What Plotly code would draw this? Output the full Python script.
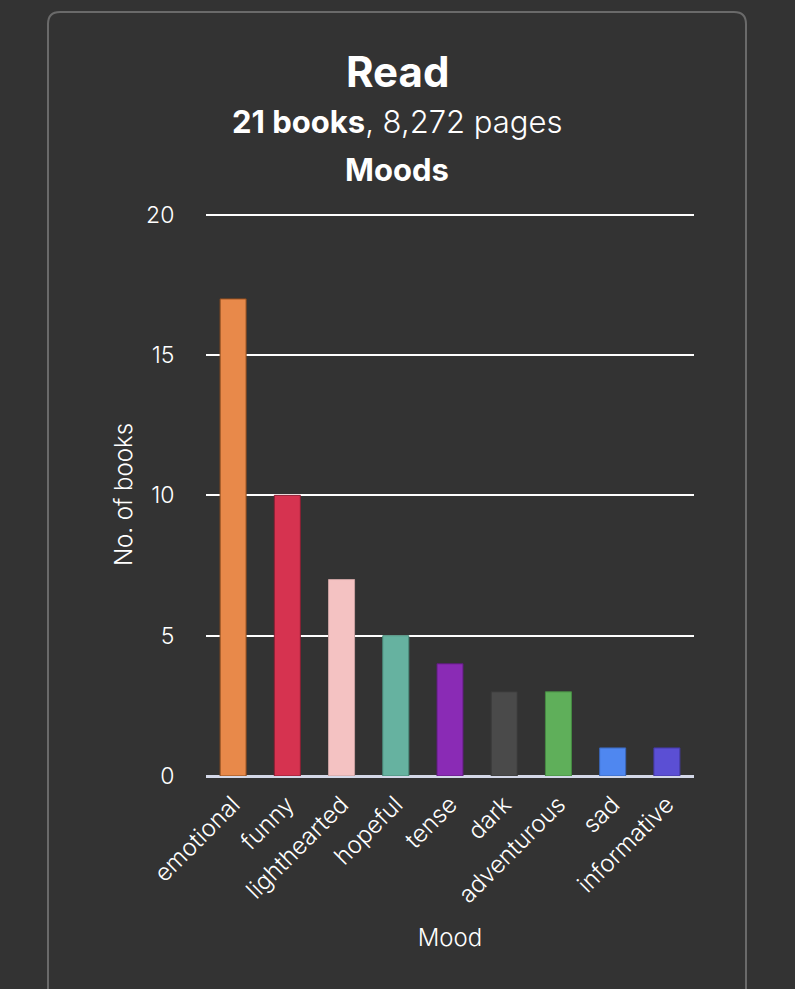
import plotly.graph_objects as go

moods = ["emotional", "funny", "lighthearted", "hopeful", "tense", "dark",
         "adventurous", "sad", "informative"]
books = [17, 10, 7, 5, 4, 3, 3, 1, 1]
colors = ["#E8894A", "#D63350", "#F4C2C2", "#66B2A0", "#8A2BB5", "#4A4A4A",
          "#5FAF5A", "#4F87F0", "#5B4FD4"]
outlines = ["#8a4a1e", "#8a1f33", "#c9a0a0", "#4a8a7a", "#5e1d7d", "#3a3a3a",
            "#468a42", "#3a66b8", "#4238a0"]
y_ticks = [0, 5, 10, 15, 20]

FONT = "Inter, Lato, sans-serif"
OFF = 8  # page body margin
W, H = 795 - OFF, 989 - OFF
PL, PR, PT, PB = 206 - OFF, 694 - OFF, 213 - OFF, 776 - OFF
L, R, T, B = PL, W - PR, PT, H - PB
PW, PH = PR - PL, PB - PT

def px(x):
    return (x - OFF - L) / PW

def py(y):
    return (PB - (y - OFF)) / PH

fig = go.Figure(go.Bar(
    x=moods, y=books,
    marker=dict(color=colors, line=dict(color=outlines, width=1)),
    width=0.48,
))

# card border (rounded rectangle)
x0, x1 = px(48), px(746)
yt, yb = py(12), py(1010)
rx, ry = 12 / PW, 12 / PH
path = (f"M {x0} {yb} L {x0} {yt - ry} Q {x0} {yt} {x0 + rx} {yt} "
        f"L {x1 - rx} {yt} Q {x1} {yt} {x1} {yt - ry} L {x1} {yb}")

cx = px(397)

fig.update_layout(
    width=W, height=H,
    margin=dict(l=L, r=R, t=T, b=B, autoexpand=False),
    paper_bgcolor="#333333", plot_bgcolor="#333333",
    font=dict(family=FONT, color="#ffffff"),
    showlegend=False,
    shapes=[dict(type="path", xref="paper", yref="paper", path=path,
                 line=dict(color="#6a6a6a", width=2), layer="below")],
    annotations=[
        dict(text="<b>Read</b>", x=cx, y=py(72), xref="paper", yref="paper",
             xanchor="center", yanchor="middle", showarrow=False,
             font=dict(size=42, family=FONT, color="#ffffff")),
        dict(text="<b>21 books</b>, 8,272 pages", x=cx, y=py(122),
             xref="paper", yref="paper", xanchor="center", yanchor="middle",
             showarrow=False,
             font=dict(size=31, family=FONT, color="#ffffff", weight=300)),
        dict(text="<b>Moods</b>", x=cx, y=py(169), xref="paper", yref="paper",
             xanchor="center", yanchor="middle", showarrow=False,
             font=dict(size=31, family=FONT, color="#ffffff")),
    ],
    xaxis=dict(
        tickangle=-45,
        tickfont=dict(size=24, color="#ffffff", weight=300),
        ticks="outside", ticklen=4, tickcolor="rgba(0,0,0,0)",
        showgrid=False, showline=False,
        title=dict(text="Mood", font=dict(size=24, color="#ffffff", weight=300),
                   standoff=21),
    ),
    yaxis=dict(
        range=[0, 20.06], tickvals=y_ticks,
        tickfont=dict(size=23, color="#ffffff", weight=300),
        ticks="outside", ticklen=26, tickcolor="rgba(0,0,0,0)",
        showgrid=True, gridcolor="#ffffff", gridwidth=2,
        zeroline=True, zerolinecolor="#d4d8e8", zerolinewidth=3,
        showline=False,
        title=dict(text="No. of books",
                   font=dict(size=24, color="#ffffff", weight=300), standoff=6),
    ),
)

fig.write_html("out.html",
               post_script="document.body.style.background='#333333';")
